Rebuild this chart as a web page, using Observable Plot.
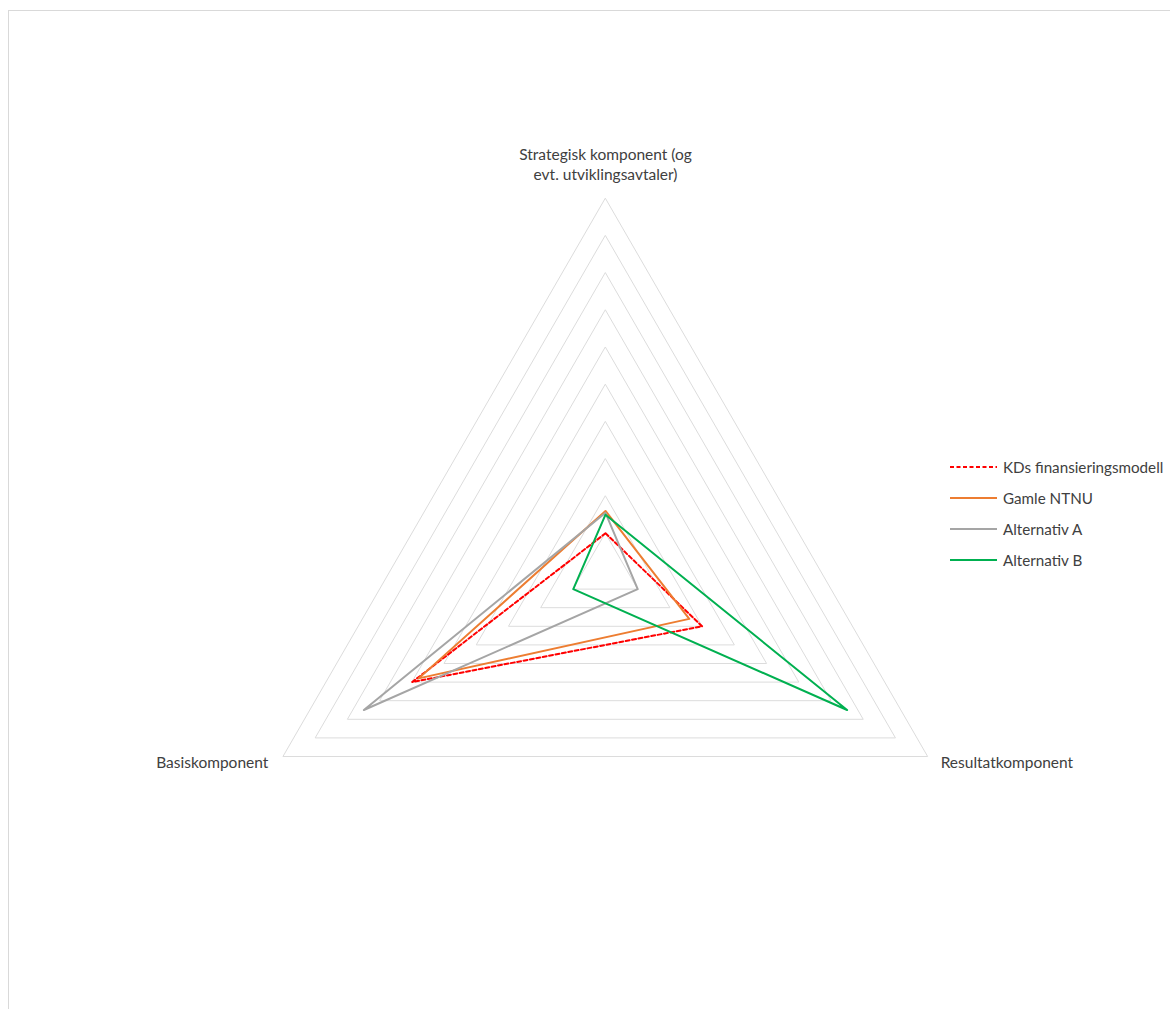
<!DOCTYPE html>
<html><head><meta charset="utf-8">
<script src="https://cdn.jsdelivr.net/npm/d3@7"></script>
<script src="https://cdn.jsdelivr.net/npm/@observablehq/plot@0.6"></script>
<style>
body{margin:0;background:#fff;font-family:Lato,"Open Sans",sans-serif;}
#wrap{position:relative;width:1170px;height:1009px;overflow:hidden;background:#fff}
#frame{position:absolute;left:8px;top:10px;width:1300px;height:1100px;border-left:1px solid #d9d9d9;border-top:1px solid #d9d9d9}
#chart{position:absolute;left:0;top:0}
#legend{position:absolute;left:950px;top:452px;font-size:15.2px;color:#404040}
.row{display:flex;align-items:center;height:30.8px}
.row svg{margin-right:5px}
</style></head>
<body><div id="wrap"><div id="frame"></div><div id="chart"></div><div id="legend"></div></div>
<script>
// Categories, clockwise from the top
const categories = ["Strategisk komponent (og\nevt. utviklingsavtaler)", "Resultatkomponent", "Basiskomponent"];
// Series
const seriesNames = ["KDs finansieringsmodell", "Gamle NTNU", "Alternativ A", "Alternativ B"];
const strategisk = [0.10, 0.16, 0.155, 0.15];
const resultat   = [0.30, 0.26, 0.10, 0.75];
const basis      = [0.60, 0.58, 0.75, 0.10];
// Grid rings
const ringLevels = [0.1, 0.2, 0.3, 0.4, 0.5, 0.6, 0.7, 0.8, 0.9, 1.0];

const colors = ["#ff0000", "#ed7d31", "#a5a5a5", "#00b050"];
const dashes = ["4,2.5", null, null, null];

const angle = i => i * 2 * Math.PI / categories.length;
const px = (v, i) => v * Math.sin(angle(i));
const py = (v, i) => v * Math.cos(angle(i));

const ringData = ringLevels.flatMap(l => categories.map((c, i) => ({level: l, x: px(l, i), y: py(l, i)})));
const valuesByCat = [strategisk, resultat, basis];
const seriesData = seriesNames.map((s, k) => categories.map((c, i) => ({series: s, x: px(valuesByCat[i][k], i), y: py(valuesByCat[i][k], i)})));
const labelData = categories.map((c, i) => ({text: c, i, x: px(1, i), y: py(1, i)}));

const chart = Plot.plot({
  width: 1170, height: 1009,
  marginLeft: 233, marginRight: 193, marginTop: 198, marginBottom: 67,
  x: {domain: [-1, 1], axis: null},
  y: {domain: [-1, 1], axis: null},
  style: {fontFamily: "Lato, 'Open Sans', sans-serif", fontSize: "15.5px", color: "#404040", background: "transparent"},
  marks: [
    Plot.line(ringData, {x: "x", y: "y", z: "level", curve: "linear-closed", stroke: "#dcdcdc", strokeWidth: 1}),
    ...seriesData.map((d, k) => Plot.line(d, {x: "x", y: "y", curve: "linear-closed", stroke: colors[k], strokeWidth: 2, strokeDasharray: dashes[k] ?? undefined})),
    Plot.text(labelData.filter(d => d.i === 0), {x: "x", y: "y", text: "text", textAnchor: "middle", lineAnchor: "middle", dy: -35, lineHeight: 1.3, fontSize: 15.5, fill: "#404040"}),
    Plot.text(labelData.filter(d => d.i === 1), {x: "x", y: "y", text: "text", textAnchor: "start", dx: 13, dy: 7, fontSize: 15.5, fill: "#404040"}),
    Plot.text(labelData.filter(d => d.i === 2), {x: "x", y: "y", text: "text", textAnchor: "end", dx: -15, dy: 7, fontSize: 15.5, fill: "#404040"})
  ]
});
document.getElementById("chart").appendChild(chart);

const legend = document.getElementById("legend");
seriesNames.forEach((s, k) => {
  const row = document.createElement("div");
  row.className = "row";
  row.innerHTML = `<svg width="48" height="6"><line x1="0" x2="47" y1="3" y2="3" stroke="${colors[k]}" stroke-width="2" ${dashes[k] ? `stroke-dasharray="${dashes[k]}"` : ""}/></svg><span>${s}</span>`;
  legend.appendChild(row);
});
</script>
</body></html>
